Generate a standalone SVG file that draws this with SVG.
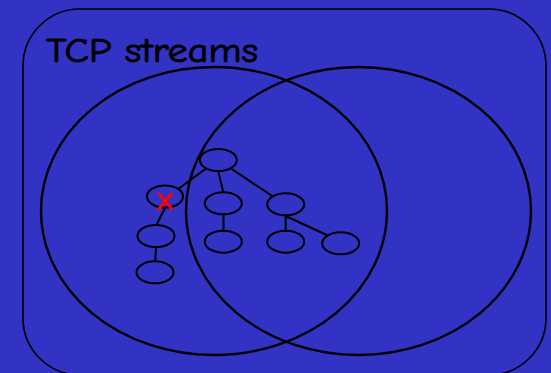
<svg xmlns="http://www.w3.org/2000/svg" width="551" height="373" viewBox="0 0 551 373">
  <style>
    .frame { fill: none; stroke: #000; stroke-width: 1.6; }
    .set { fill: none; stroke: #000; stroke-width: 2.4; }
    .node { fill: none; stroke: #000; stroke-width: 2; }
    .edge { stroke: #000; stroke-width: 2; stroke-linecap: round; }
    .title { font-family: "Comic Neue", "DejaVu Sans", sans-serif; font-size: 34px; fill: #000; stroke: #000; stroke-width: 0.9; }
    .cut { stroke: #ff0000; stroke-width: 3; stroke-linecap: round; }
  </style>
  <rect width="551" height="373" fill="#3232C4"/>

  <rect class="frame" x="23" y="9" width="523" height="366" rx="57" ry="57"/>
  <text class="title" x="46" y="62" textLength="212" lengthAdjust="spacingAndGlyphs">TCP streams</text>

  <ellipse class="set" cx="214" cy="211" rx="173" ry="144"/>
  <ellipse class="set" cx="358.5" cy="211" rx="172.5" ry="144"/>

  <g id="connectors">
    <line class="edge" x1="205" y1="169.3" x2="179.3" y2="188.3"/>
    <line class="edge" x1="218.3" y1="171.5" x2="223.3" y2="192.3"/>
    <line class="edge" x1="232.3" y1="169.3" x2="271.7" y2="195.7"/>
    <line class="edge" x1="165" y1="208" x2="156.7" y2="224.5"/>
    <line class="edge" x1="156" y1="247.3" x2="155.3" y2="261"/>
    <line class="edge" x1="223.5" y1="214.3" x2="223.5" y2="230.7"/>
    <line class="edge" x1="285.7" y1="215.5" x2="285.7" y2="230.7"/>
    <line class="edge" x1="286.7" y1="216.5" x2="326.7" y2="235"/>
  </g>

  <g id="n-root"><ellipse class="node" cx="218.3" cy="160" rx="18.5" ry="11"/></g>
  <g id="n-cut"><ellipse class="node" cx="165" cy="196.5" rx="18" ry="11"/></g>
  <g id="n-left1"><ellipse class="node" cx="156" cy="236" rx="18.5" ry="11"/></g>
  <g id="n-left2"><ellipse class="node" cx="155" cy="272.3" rx="18.5" ry="11"/></g>
  <g id="n-mid1"><ellipse class="node" cx="223.3" cy="203.3" rx="18.5" ry="11"/></g>
  <g id="n-mid2"><ellipse class="node" cx="223.3" cy="241.7" rx="18.5" ry="11"/></g>
  <g id="n-right1"><ellipse class="node" cx="285.7" cy="204.3" rx="18.5" ry="11"/></g>
  <g id="n-right2"><ellipse class="node" cx="285.7" cy="241.7" rx="18.5" ry="11"/></g>
  <g id="n-far"><ellipse class="node" cx="340.7" cy="243.3" rx="18.5" ry="11"/></g>

  <g id="cut-mark">
    <line class="cut" x1="159" y1="194" x2="171.5" y2="208.5"/>
    <line class="cut" x1="171" y1="194" x2="159" y2="209"/>
  </g>
</svg>
